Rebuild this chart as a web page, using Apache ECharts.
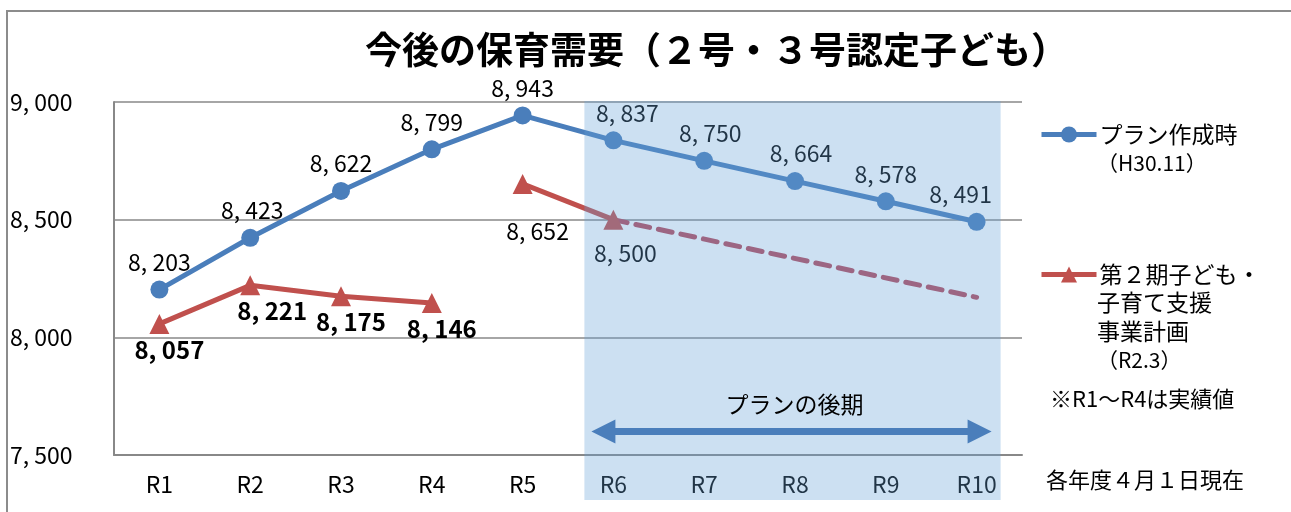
<!DOCTYPE html>
<html>
<head>
<meta charset="utf-8">
<script src="https://cdn.jsdelivr.net/npm/echarts@6/dist/echarts.min.js"></script>
<style>html,body{margin:0;padding:0;background:#fff}#c{width:1291px;height:512px}</style>
</head>
<body>
<div id="c"></div>
<script>
const categories = ['R1','R2','R3','R4','R5','R6','R7','R8','R9','R10'];
const planValues = [8203, 8423, 8622, 8799, 8943, 8837, 8750, 8664, 8578, 8491];
const actualValues = [8057, 8221, 8175, 8146, null, null, null, null, null, null];
const planSecondValues = [null, null, null, null, 8652, 8500, null, null, null, null];
const trendStart = ['R6', 8500];
const trendEnd = ['R10', 8170];
const yTicks = [7500, 8000, 8500, 9000];
const titleText = '今後の保育需要（２号・３号認定子ども）';
const seriesNames = ['プラン作成時', '第２期子ども・子育て支援事業計画（R2.3）'];
const legendLines = [['プラン作成時', '（H30.11）'], ['第２期子ども・', '子育て支援', '事業計画', '（R2.3）']];
const noteText = '※R1～R4は実績値';
const dateText = '各年度４月１日現在';
const periodText = 'プランの後期';

const FONT = '"Noto Sans CJK JP", "Noto Sans", sans-serif';
const BLUE = '#4a7ebb';
const RED = '#c0504d';
const fmt = v => { const s = String(v); return s.slice(0, s.length - 3) + ', ' + s.slice(-3); };

const chart = echarts.init(document.getElementById('c'), null, {renderer: 'canvas'});

const blueLabelOffsets = [[0,0],[2,0],[0,0],[0,0],[0,0],[14,0],[6,0],[6,0],[0,0],[-16,0]];
const redLabelOffsets = [[10,0],[22,0],[10,0],[10,0]];

const legendBase = {left: 1034, itemWidth: 55, itemHeight: 20, itemGap: 4,
  lineStyle: {width: 5},
  textStyle: {fontFamily: FONT, fontSize: 23, color: '#000', padding: [0, 0, 0, -2]}};

const option = {
  animation: false,
  backgroundColor: '#fff',
  textStyle: {fontFamily: FONT},
  title: {
    text: titleText, left: 360, top: 26,
    textStyle: {fontFamily: FONT, fontSize: 37, fontWeight: 'bold', color: '#000'}
  },
  grid: {left: 114, right: 269, top: 102, bottom: 57, containLabel: false},
  legend: [
    Object.assign({data: [seriesNames[0]], top: 118, formatter: () => legendLines[0][0]}, legendBase),
    Object.assign({data: [seriesNames[1]], top: 258, formatter: () => legendLines[1][0]}, legendBase)
  ],
  xAxis: {
    type: 'category', data: categories, boundaryGap: true,
    axisLine: {lineStyle: {color: '#888', width: 2}},
    axisTick: {show: false},
    axisLabel: {color: '#000', fontSize: 23, fontFamily: FONT, margin: 18}
  },
  yAxis: {
    type: 'value', min: yTicks[0], max: yTicks[yTicks.length - 1], interval: 500,
    axisLine: {show: true, lineStyle: {color: '#888', width: 2}},
    axisTick: {show: false},
    splitLine: {lineStyle: {color: '#888', width: 1.5}},
    axisLabel: {color: '#000', fontSize: 23, fontFamily: FONT, align: 'left', margin: 104, formatter: fmt}
  },
  series: [
    {
      name: seriesNames[0], type: 'line', data: planValues.map((v, i) => ({value: v, label: {offset: blueLabelOffsets[i]}})),
      symbol: 'circle', symbolSize: 18, color: BLUE,
      lineStyle: {color: BLUE, width: 5}, itemStyle: {color: BLUE},
      label: {show: true, position: 'top', distance: 7, color: '#000', fontSize: 23, fontFamily: FONT, formatter: p => fmt(p.value)},
      z: 3
    },
    {
      name: seriesNames[1], type: 'line', data: actualValues.map((v, i) => v == null ? null : ({value: v, label: {offset: redLabelOffsets[i]}})),
      symbol: 'triangle', symbolSize: 20, color: RED,
      lineStyle: {color: RED, width: 5}, itemStyle: {color: RED},
      label: {show: true, position: 'bottom', distance: 4, color: '#000', fontSize: 24, fontWeight: 'bold', fontFamily: FONT, formatter: p => fmt(p.value)},
      z: 2
    },
    {
      name: seriesNames[1], type: 'line',
      data: planSecondValues.map((v, i) => v == null ? null : ({value: v, label: {offset: i === 4 ? [15, 22] : [12, 8]}})),
      symbol: 'triangle', symbolSize: 20, color: RED,
      lineStyle: {color: RED, width: 5}, itemStyle: {color: RED},
      label: {show: true, position: 'bottom', distance: 4, color: '#000', fontSize: 23, fontFamily: FONT, formatter: p => fmt(p.value)},
      z: 2
    },
    {
      name: 'trend', type: 'line', data: [trendStart, trendEnd], showSymbol: false, symbol: 'none',
      lineStyle: {color: '#b84a5a', width: 5, type: [14, 9], cap: 'round'}, z: 1
    }
  ]
};
chart.setOption(option);

function buildGraphics() {
  const px = (c, v) => chart.convertToPixel({gridIndex: 0}, [c, v]);
  const r6 = px('R6', 9000), r10 = px('R10', 9000), yBottom = px('R6', 7500)[1];
  const arrowY = px('R6', 7600)[1], textY = px('R6', 7715)[1];
  const aL = r6[0] - 22, aR = r10[0] + 15, hl = 24, hh = 12, t = 3.5;
  const els = [];
  els.push({type: 'rect', shape: {x: 7, y: 11, width: 1400, height: 600}, style: {fill: 'none', stroke: '#8c8c8c', lineWidth: 2}, z: 0, silent: true});
  els.push({type: 'rect', shape: {x: r6[0] - 29, y: r6[1] - 1, width: (r10[0] + 24) - (r6[0] - 29), height: yBottom + 45 - (r6[1] - 1)},
    style: {fill: 'rgba(100,160,215,0.33)'}, z: 100, silent: true});
  els.push({type: 'polygon', shape: {points: [
    [aL, arrowY], [aL + hl, arrowY - hh], [aL + hl, arrowY - t], [aR - hl, arrowY - t], [aR - hl, arrowY - hh],
    [aR, arrowY], [aR - hl, arrowY + hh], [aR - hl, arrowY + t], [aL + hl, arrowY + t], [aL + hl, arrowY + hh]
  ]}, style: {fill: BLUE}, z: 101, silent: true});
  els.push({type: 'text', x: (aL + aR) / 2 + 3, y: textY, style: {text: periodText, fontFamily: FONT, fontSize: 23, fill: '#000', textAlign: 'center', textVerticalAlign: 'middle'}, z: 101});
  els.push({type: 'text', x: 1097, y: 163, style: {text: legendLines[0][1], fontFamily: FONT, fontSize: 21, fill: '#000', textVerticalAlign: 'middle'}, z: 101});
  const ys = [302, 331, 360];
  for (let i = 1; i < legendLines[1].length; i++) {
    els.push({type: 'text', x: 1097, y: ys[i - 1], style: {text: legendLines[1][i], fontFamily: FONT, fontSize: i === 3 ? 21 : 23, fill: '#000', textVerticalAlign: 'middle'}, z: 101});
  }
  els.push({type: 'text', x: 1050, y: 399, style: {text: noteText, fontFamily: FONT, fontSize: 22, fill: '#000', textVerticalAlign: 'middle'}, z: 101});
  els.push({type: 'text', x: 1046, y: 480, style: {text: dateText, fontFamily: FONT, fontSize: 22, fill: '#000', textVerticalAlign: 'middle'}, z: 101});
  chart.setOption({graphic: {elements: els}});
}
buildGraphics();
</script>
</body>
</html>
